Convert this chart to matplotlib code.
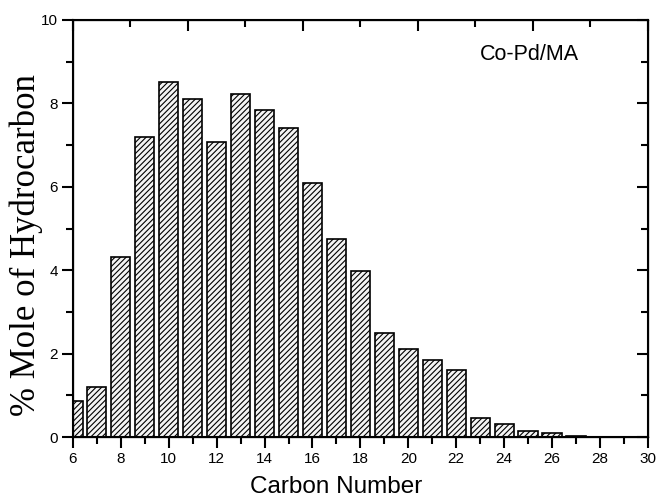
import matplotlib
matplotlib.use("Agg")
import matplotlib.pyplot as plt
from matplotlib.ticker import MultipleLocator

# carbon number distribution
carbon = [6, 7, 8, 9, 10, 11, 12, 13, 14, 15, 16, 17,
          18, 19, 20, 21, 22, 23, 24, 25, 26, 27]
mole_pct = [0.87, 1.21, 4.31, 7.2, 8.51, 8.1, 7.08, 8.23, 7.84, 7.4, 6.08, 4.75,
            3.99, 2.49, 2.12, 1.85, 1.62, 0.45, 0.31, 0.14, 0.09, 0.03]
x_ticks = [6, 8, 10, 12, 14, 16, 18, 20, 22, 24, 26, 28, 30]
y_ticks = [0, 2, 4, 6, 8, 10]
sample_label = "Co-Pd/MA"

plt.rcParams['font.family'] = ['Liberation Sans', 'DejaVu Sans']
plt.rcParams['hatch.linewidth'] = 0.8

fig = plt.figure(figsize=(6.57, 4.99), dpi=100)
ax = fig.add_axes([0.111, 0.124, 0.875, 0.836])

ax.bar(carbon, mole_pct, width=0.8, facecolor='#f4f4f4', edgecolor='black',
       linewidth=1.2, hatch='//////')

ax.set_xlim(6, 30)
ax.set_ylim(0, 10)
ax.set_xticks(x_ticks)
ax.set_yticks(y_ticks)
ax.xaxis.set_minor_locator(MultipleLocator(1))
ax.yaxis.set_minor_locator(MultipleLocator(1))
ax.tick_params(which='major', direction='out', length=8, width=1.5, labelsize=11, pad=3)
ax.tick_params(which='minor', direction='out', length=5, width=1.5)
for sp in ax.spines.values():
    sp.set_linewidth(1.5)

ax.set_xlabel("Carbon Number", fontsize=17.5)
ax.xaxis.set_label_coords(0.458, -0.092)
ax.set_ylabel("% Mole of Hydrocarbon", fontsize=25, family=['Liberation Serif'])
ax.yaxis.set_label_coords(-0.052, 0.46)

ax.text(0.708, 0.905, sample_label, transform=ax.transAxes, fontsize=15.5)

# mirror axes (ticks pointing in, no labels)
ax_r = ax.twinx()
ax_r.set_ylim(0, 10)
ax_r.yaxis.set_major_locator(MultipleLocator(2))
ax_r.yaxis.set_minor_locator(MultipleLocator(1))
ax_r.tick_params(which='major', direction='in', length=8, width=1.5, labelright=False)
ax_r.tick_params(which='minor', direction='in', length=5, width=1.5)

ax_t = ax.twiny()
ax_t.set_xlim(0, 10)
ax_t.xaxis.set_major_locator(MultipleLocator(2))
ax_t.xaxis.set_minor_locator(MultipleLocator(1))
ax_t.tick_params(which='major', direction='in', length=8, width=1.5, labeltop=False)
ax_t.tick_params(which='minor', direction='in', length=5, width=1.5)

fig.savefig("out.png", dpi=100)
